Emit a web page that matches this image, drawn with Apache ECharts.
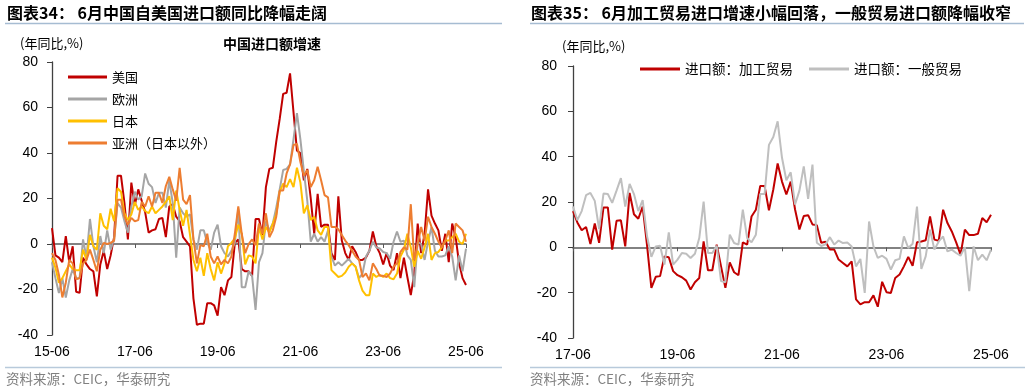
<!DOCTYPE html>
<html><head><meta charset="utf-8">
<script src="https://cdn.jsdelivr.net/npm/echarts@6/dist/echarts.min.js"></script>
<style>html,body{margin:0;padding:0;background:#fff}#c{width:1031px;height:392px}</style>
</head><body><div id="c"></div>
<script>
// ---------- data ----------
function months(y0, n) {
  const out = [];
  for (let k = 0; k < n; k++) {
    const m = 6 + k;
    const yy = y0 + Math.floor((m - 1) / 12);
    const mm = ((m - 1) % 12) + 1;
    out.push(String(yy).padStart(2, '0') + '-' + String(mm).padStart(2, '0'));
  }
  return out;
}
const leftCategories = months(15, 121);   // 15-06 ... 25-06
const rightCategories = months(17, 97);   // 17-06 ... 25-06

const leftNames = ['美国', '欧洲', '日本', '亚洲（日本以外）'];
const rightNames = ['进口额：加工贸易', '进口额：一般贸易'];

const usa = [7,-5,-6,-8,3.5,-8,-1,-21,-21.5,-6,-9,-11,-12,-23,-9,-3,-11,-5,3,30,
  30,18,2,27,17,24,19,14,5,6,6.5,11,11.5,3,16.5,17.5,12,10,3,1,
  -1,-24,-35.5,-35,-35,-26,-26,-27,-31.5,-19,-22.5,-16,-14.5,0.5,2,-11,-12,-12,-14,11,
  11,4,25,33,33.5,45,55,66,66.5,75,58,41,40,28,33,20,4.5,22,7.5,8.5,
  8.5,-4,-7,21,1.5,-4,-7,-1,-3.5,-7,-7,-6,-3,5.5,-1,-4,-9,-4,-9.5,-11.5,
  -4,-15,-6,-14.5,-22.5,-13,9,-4,4.5,24,12.5,9,6,-3,4.5,-8,9,3,-8.5,-15,-18];
const europe = [-8,-15,-21.5,-15,-23.5,-16,-11,-15,-15,2,-6,11,-1,-8,3.5,-4,6,-2.5,2,18,
  16,10,5,16.5,23,19.5,21,31,26.5,25,18,22.5,22.5,16,28,18,-6,16,13.5,12,
  13,2,-2.5,6,6,0.5,-2.5,5,8.5,-1,-4,-5.5,-3,0.5,15.5,-19,-19,-12,-14,-29,
  -8,-4,10,6,9,16,24,32.5,33,35,46,57.5,46,32,19,1,4.5,1,3,1,
  6,-5.5,-9.5,-8,-9.5,-8,-6.5,-8.5,-10,-15,-13,-5.5,-3,1,-1.5,-2,-3.5,-4,-6.5,1,
  5.5,1,1.5,-5,-7,-19,1,0,-7,1,7.5,-3,-5.5,-5.5,-5,-1,-5.5,-16,-5,-12,-2];
const japan = [-6,-10.5,-17,-15,-12,-9,-11,-11.5,-11.5,-2.5,-7,4,-1,-2.5,13.5,8,6.5,15.5,10,24.5,
  23,13.5,10.5,13,18.5,15,16.5,14.5,13.5,16.5,13.5,15,16.5,18.5,21,10.5,23.5,15,8,15,
  4,-7,-12,-6,-14,-4,-11,-16,-8,-13,-8.5,-1,0.5,2.5,8.5,4.5,-9,-5,-5.5,-8.5,
  7.5,2,7.5,5,9,13,23,26.5,25,28.5,25,33.5,27,13.5,17,10.5,12,6,4,7.5,
  7.5,-11.5,-13,-14.5,-14,-12.5,-10,-8.5,-10,-16,-20.5,-22.5,-22.5,-13,-14.5,-13.5,-14.5,-13,-15,-15.5,
  -13,-5.5,-2.5,4.5,-1.5,-10,-3,-6.5,-1.5,4.5,-7,-4,-3.5,-1.5,1.5,1.5,3,4.5,1,0,4.5];
const asiaExJapan = [-4,-7,-13.5,-23.5,-17,-7,-8.5,-15.5,-15,-8.5,-7,-2.5,-7,-12,-2.5,0.5,0,0.5,1.5,19.5,
  19.5,12,8.5,11.5,10,10.5,18.5,16.5,21,16.5,22.5,22.5,18,25.5,29.5,24,19,33.5,19.5,17.5,
  21.5,2,-8.5,-0.5,-1,4.5,-5.5,-8.5,-5.5,-9,-7,-8.5,-5.5,4.5,16.5,4.5,-4,0,2,-0.5,
  9,4.5,13.5,3,6,12,23.5,23.5,31,35,43.5,44,36,30,32.5,25,28,34,28,21.5,
  20.5,7.5,7.5,6.5,4,1.5,-0.5,-3,-5.5,-7,-14.5,-13,-16,-8.5,-11,-14,-14,-14.5,-13,-10,
  -8.5,-3.5,-1.5,-2.5,17.5,-7,0,7.5,1.5,12,7.5,4.5,1,-1.5,1.5,6,-4,9,7.5,6,1];

const processingTrade = [16,11,7.5,9,1.5,10.5,2,17.6,17.6,-1,11.7,11.9,0.4,24,14.6,12.6,18,1,-17.9,-13,
  -12.7,-4,-4.4,-10.5,-12.3,-13.2,-14.7,-18.6,-15.4,-13.5,2.6,-10.1,-10.1,1.2,-8.4,-17.9,-6.6,-11,-12.3,2.2,
  1.2,13.6,16.6,27.1,27.1,16.3,25.5,37,29,23.3,29,16.7,7.9,13.8,14.2,10.1,9.8,2,2.5,-1,
  -1,-5.4,-6.9,-8.4,-6.2,-23,-25.2,-24.2,-24.2,-21.2,-26.2,-15.2,-19.8,-20.1,-13.5,-12,-8.4,-4.2,-8.1,2.2,
  2.6,3.1,13.6,3.4,2.9,16.6,10.7,7,2.2,-3.2,7.8,5.4,5.4,6,12.9,11.1,14.4];
const generalTrade = [18,12,16,23,24,20.5,8,23.7,23.5,19.6,25,30.5,18,28,23.5,16,20.8,5,-4.2,0.4,
  0.7,-7.6,6.6,-7.6,-5.4,-2.5,-2.8,-4.7,-2.8,4.1,20.2,-2.5,-2.5,0.7,-14.9,-15.4,5.6,1.9,1.2,16.6,
  4.1,2.2,5.6,23.5,23.5,45.2,48.7,55.6,39.5,29.6,33.1,18.9,25,35.7,21.4,36.5,2,0.6,1.3,4.5,
  1.2,3,1.9,2.1,0.4,-8.4,-5.1,-20.1,11.4,0.4,-4.7,-3.7,-5.1,-9.8,-5.7,-5.1,4.8,-0.3,1.6,18,
  -9.5,-4,7.8,-1,2.6,4.8,-1.8,-1,-2.5,-3.7,0.1,-19.3,0.4,-5.7,-3.2,-5.7,-1];

const yTicks = { min: -40, max: 80, interval: 20 };

// ---------- chart ----------
const FONT = "'Liberation Sans', Arial, 'Noto Sans CJK SC', sans-serif";
const CJK = "'Noto Sans CJK SC', 'Liberation Sans', sans-serif";
const chart = echarts.init(document.getElementById('c'), null, { renderer: 'canvas' });

function labelAxis(grid, cats) {
  return { gridIndex: grid, type: 'category', data: cats, boundaryGap: false,
    axisLine: { show: false, onZero: false }, axisTick: { show: false },
    axisLabel: { interval: 23, color: '#000', fontSize: 14, margin: 10, fontFamily: FONT },
    splitLine: { show: false } };
}
function zeroAxis(grid, cats) {
  return { gridIndex: grid, type: 'category', data: cats, boundaryGap: false,
    axisLine: { show: true, onZero: true, lineStyle: { color: '#595959', width: 1.5 } },
    axisTick: { show: true, interval: 23, inside: true, length: 4, lineStyle: { color: '#595959' } },
    axisLabel: { show: false }, splitLine: { show: false } };
}
function valAxis(grid, margin) {
  return { gridIndex: grid, type: 'value', min: yTicks.min, max: yTicks.max, interval: yTicks.interval,
    axisLine: { show: true, lineStyle: { color: '#404040', width: 1.3 } },
    axisTick: { show: true, length: 5, lineStyle: { color: '#404040' } },
    axisLabel: { color: '#000', fontSize: 14, margin: margin, fontFamily: FONT },
    splitLine: { show: false } };
}
function line(name, data, xi, yi, color) {
  return { name, type: 'line', data, xAxisIndex: xi, yAxisIndex: yi, symbol: 'none',
    lineStyle: { color, width: 2 }, itemStyle: { color }, emphasis: { disabled: true } };
}

const option = {
  animation: false,
  textStyle: { fontFamily: FONT },
  grid: [
    { left: 52, top: 62, width: 414, height: 273 },
    { left: 573, top: 66, width: 418, height: 272 }
  ],
  xAxis: [labelAxis(0, leftCategories), zeroAxis(0, leftCategories),
          labelAxis(1, rightCategories), zeroAxis(1, rightCategories)],
  yAxis: [valAxis(0, 14), valAxis(1, 16)],
  legend: [
    { data: leftNames, orient: 'vertical', left: 63, top: 65, itemWidth: 39, itemHeight: 3,
      icon: 'rect', itemGap: 8, textStyle: { fontSize: 13, color: '#000', fontFamily: CJK, lineHeight: 14 } },
    { data: rightNames, orient: 'horizontal', left: 635, top: 57, itemWidth: 40, itemHeight: 3,
      icon: 'rect', itemGap: 16, textStyle: { fontSize: 13.5, color: '#000', fontFamily: CJK, lineHeight: 14 } }
  ],
  series: [
    line(leftNames[0], usa, 0, 0, '#C00000'),
    line(leftNames[1], europe, 0, 0, '#A5A5A5'),
    line(leftNames[2], japan, 0, 0, '#FFC000'),
    line(leftNames[3], asiaExJapan, 0, 0, '#ED7D31'),
    line(rightNames[0], processingTrade, 2, 1, '#C00000'),
    line(rightNames[1], generalTrade, 2, 1, '#BFBFBF')
  ],
  graphic: [
    { type: 'text', left: 7, top: 5, style: { text: '图表34： 6月中国自美国进口额同比降幅走阔', font: "bold 16px " + CJK, fill: '#000' } },
    { type: 'text', left: 531, top: 5, style: { text: '图表35： 6月加工贸易进口增速小幅回落，一般贸易进口额降幅收窄', font: "bold 16px " + CJK, fill: '#000' } },
    { type: 'line', shape: { x1: 5, y1: 23.5, x2: 502, y2: 23.5 }, style: { stroke: '#A6BCD2', lineWidth: 1.5 } },
    { type: 'line', shape: { x1: 530, y1: 23.5, x2: 1024, y2: 23.5 }, style: { stroke: '#A6BCD2', lineWidth: 1.5 } },
    { type: 'text', left: 20, top: 37, style: { text: '(年同比,%)', font: "13px " + CJK, fill: '#000' } },
    { type: 'text', left: 562, top: 40, style: { text: '(年同比,%)', font: "13px " + CJK, fill: '#000' } },
    { type: 'text', left: 223, top: 37, style: { text: '中国进口额增速', font: "bold 14px " + CJK, fill: '#000' } },
    { type: 'line', shape: { x1: 5, y1: 367.5, x2: 502, y2: 367.5 }, style: { stroke: '#B8CADB', lineWidth: 1.5 } },
    { type: 'line', shape: { x1: 530, y1: 367.5, x2: 1025, y2: 367.5 }, style: { stroke: '#B8CADB', lineWidth: 1.5 } },
    { type: 'text', left: 6, top: 372, style: { text: '资料来源：CEIC，华泰研究', font: "13.5px " + CJK, fill: '#808080' } },
    { type: 'text', left: 530, top: 372, style: { text: '资料来源：CEIC，华泰研究', font: "13.5px " + CJK, fill: '#808080' } }
  ]
};
chart.setOption(option);
</script></body></html>
